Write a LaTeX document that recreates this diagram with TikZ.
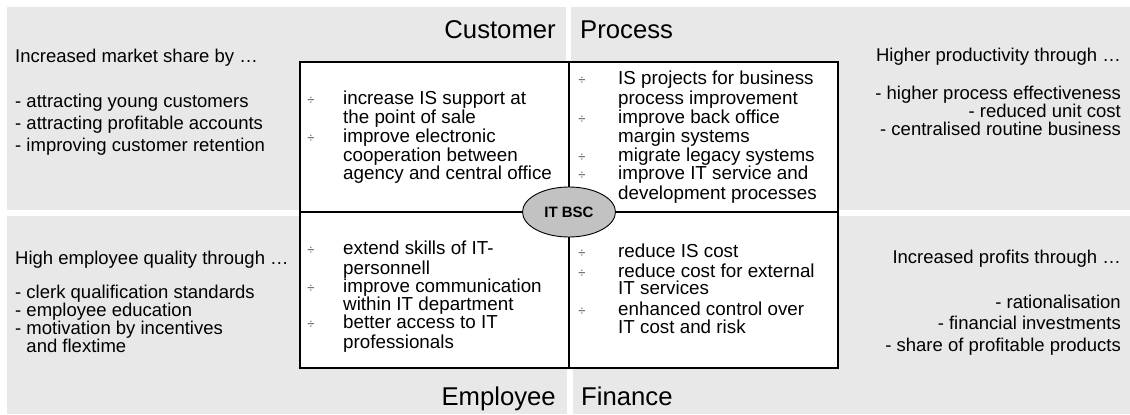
\documentclass[tikz,border=0pt]{standalone}
\usepackage{fontspec}
\setmainfont{Liberation Sans}
\usetikzlibrary{positioning,shapes.geometric}
\definecolor{panelgray}{RGB}{232,232,232}
\definecolor{bscgray}{RGB}{194,194,194}

\begin{document}
\begin{tikzpicture}[x=1pt,y=-1pt,
        panel/.style={fill=panelgray},
        ttl/.style={font=\fontsize{25.7}{30}\selectfont, inner sep=0pt},
        txt/.style={font=\fontsize{18.5}{20}\selectfont, inner sep=0pt},
        mtxt/.style={font=\fontsize{18.8}{20}\selectfont, inner sep=0pt},
        bul/.style={font=\fontsize{13}{14}\selectfont, text=black!70, inner sep=0pt},
        frame/.style={draw=black, line width=1.1pt}
    ]
        \useasboundingbox (0,0) rectangle (1130,415);

        % grey quadrants
        \fill[panel] (7,7) rectangle (566,210);
        \fill[panel] (571,7) rectangle (1130,210);
        \fill[panel] (7,216) rectangle (567,414);
        \fill[panel] (573,216) rectangle (1130,414);

        % perspective titles
        \node[ttl, anchor=base east] (cust) at (556,38) {Customer};
        \node[ttl, anchor=base west] (proc) at (580,38) {Process};
        \node[ttl, anchor=base east] (empl) at (556,405) {Employee};
        \node[ttl, anchor=base west] (fin) at (581,405) {Finance};

        % central box
        \coordinate (nw) at (300,62);
        \coordinate (se) at (838,368);
        \coordinate (top) at (569,62);
        \coordinate (bot) at (569,368);
        \coordinate (lft) at (300,212);
        \coordinate (rgt) at (838,212);
        \draw[frame, fill=white] (nw) rectangle (se);
        \draw[frame] (top) -- (bot);
        \draw[frame] (lft) -- (rgt);

        % outer goals
        \foreach \y/\t [count=\i] in {62/Increased market share by \dots,
                107/- attracting young customers,
                129/- attracting profitable accounts,
                151/- improving customer retention}
            \node[txt, anchor=base west] (cg-\i) at (15,\y) {\t};
        \foreach \y/\t [count=\i] in {61/Higher productivity through \dots,
                99/- higher process effectiveness,
                117/- reduced unit cost,
                135/- centralised routine business}
            \node[txt, anchor=base east] (pg-\i) at (1121,\y) {\t};
        \foreach \y/\t [count=\i] in {264/High employee quality through \dots,
                298/- clerk qualification standards,
                316/- employee education,
                334/- motivation by incentives,
                352/\phantom{-} and flextime}
            \node[txt, anchor=base west] (eg-\i) at (15,\y) {\t};
        \foreach \y/\t [count=\i] in {263/Increased profits through \dots,
                308/- rationalisation,
                329/- financial investments,
                351/- share of profitable products}
            \node[txt, anchor=base east] (fg-\i) at (1121,\y) {\t};

        % IT measures per quadrant
        \foreach \y/\t [count=\i] in {104/increase IS support at,
                123/the point of sale,
                142/improve electronic,
                161/cooperation between,
                179/agency and central office}
            \node[mtxt, anchor=base west] (cm-\i) at (343,\y) {\t};
        \foreach \y/\t [count=\i] in {84/IS projects for business,
                104/process improvement,
                123/improve back office,
                142/margin systems,
                161/migrate legacy systems,
                179/improve IT service and,
                199/development processes}
            \node[mtxt, anchor=base west] (pm-\i) at (618,\y) {\t};
        \foreach \y/\t [count=\i] in {254/extend skills of IT-,
                274/personnell,
                292/improve communication,
                310/within IT department,
                328/better access to IT,
                348/professionals}
            \node[mtxt, anchor=base west] (em-\i) at (343,\y) {\t};
        \foreach \y/\t [count=\i] in {257/reduce IS cost,
                277/reduce cost for external,
                294/IT services,
                315/enhanced control over,
                333/IT cost and risk}
            \node[mtxt, anchor=base west] (fm-\i) at (618,\y) {\t};

        % bullets
        \foreach \y [count=\i] in {104,142}
            \node[bul, anchor=base] (cb-\i) at (311,\y) {÷};
        \foreach \y [count=\i] in {84,123,161,179}
            \node[bul, anchor=base] (pb-\i) at (582,\y) {÷};
        \foreach \y [count=\i] in {254,292,328}
            \node[bul, anchor=base] (eb-\i) at (311,\y) {÷};
        \foreach \y [count=\i] in {257,277,315}
            \node[bul, anchor=base] (fb-\i) at (582,\y) {÷};

        % centre
        \node[ellipse, draw, line width=0.9pt, fill=bscgray, minimum width=93pt, minimum height=50pt,
            font=\bfseries\fontsize{15}{17}\selectfont] (bsc) at (569,212) {IT BSC};
    \end{tikzpicture}
\end{document}
